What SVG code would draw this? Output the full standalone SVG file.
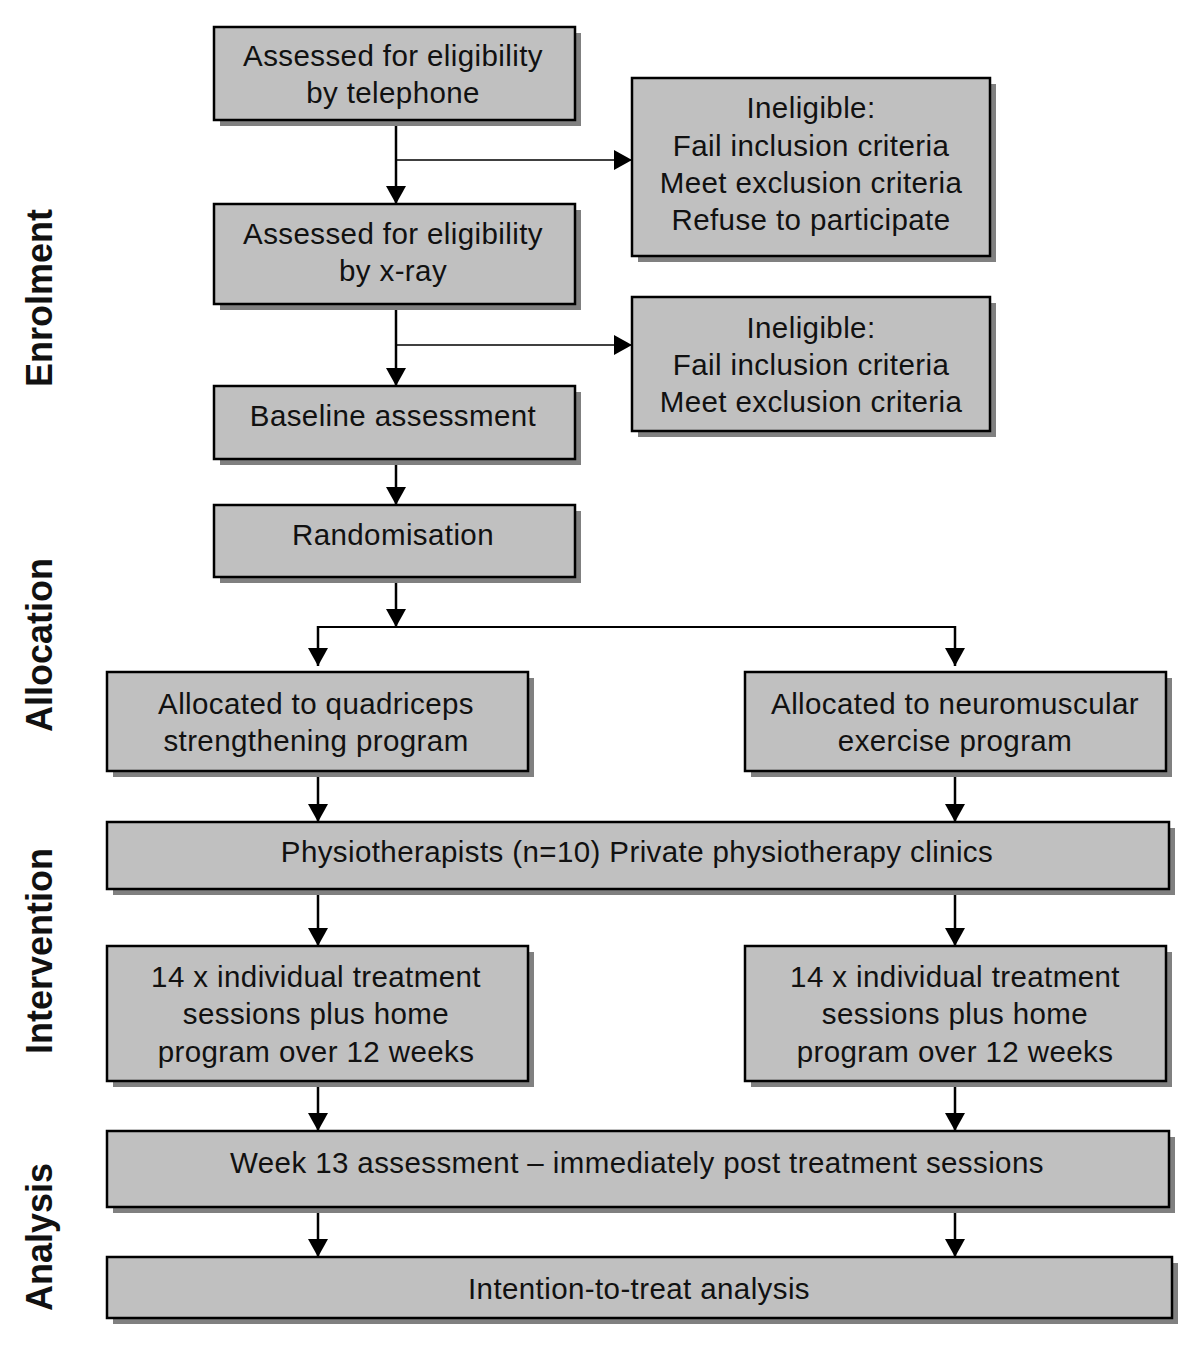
<svg xmlns="http://www.w3.org/2000/svg" width="1200" height="1354" viewBox="0 0 1200 1354">
<defs>
<style>
.box rect.b{fill:#c0c0c0;stroke:#000;stroke-width:2.5}
.box rect.s{fill:#808080}
text{font-family:"Liberation Sans",Arial,sans-serif;font-size:29.5px;letter-spacing:0.4px;fill:#111;text-anchor:middle}
.lab{font-size:36px;font-weight:bold;letter-spacing:0}
.c line{stroke:#000;stroke-width:2.5}
.c line.t{stroke-width:1.6}
</style>
<marker id="ah" markerUnits="userSpaceOnUse" markerWidth="22" markerHeight="22" refX="18" refY="10" orient="auto">
<path d="M0,0 L18,10 L0,20 Z" fill="#000"/>
</marker>
</defs>
<rect width="1200" height="1354" fill="#fff"/>

<g id="labels">
<text class="lab" transform="translate(52,298) rotate(-90)">Enrolment</text>
<text class="lab" transform="translate(52,645) rotate(-90)">Allocation</text>
<text class="lab" transform="translate(52,951) rotate(-90)">Intervention</text>
<text class="lab" transform="translate(52,1237) rotate(-90)">Analysis</text>
</g>

<g id="connectors" class="c">
<line x1="396" y1="121" x2="396" y2="204" marker-end="url(#ah)"/>
<line class="t" x1="396" y1="160" x2="632" y2="160" marker-end="url(#ah)"/>
<line x1="396" y1="305" x2="396" y2="386" marker-end="url(#ah)"/>
<line class="t" x1="396" y1="345" x2="632" y2="345" marker-end="url(#ah)"/>
<line x1="396" y1="460" x2="396" y2="505" marker-end="url(#ah)"/>
<line x1="396" y1="578" x2="396" y2="627" marker-end="url(#ah)"/>
<line class="t" x1="317" y1="627" x2="956" y2="627" style="stroke-width:2"/>
<line x1="318" y1="626" x2="318" y2="666" marker-end="url(#ah)"/>
<line x1="955" y1="626" x2="955" y2="666" marker-end="url(#ah)"/>
<line x1="318" y1="772" x2="318" y2="822" marker-end="url(#ah)"/>
<line x1="955" y1="772" x2="955" y2="822" marker-end="url(#ah)"/>
<line x1="318" y1="890" x2="318" y2="946" marker-end="url(#ah)"/>
<line x1="955" y1="890" x2="955" y2="946" marker-end="url(#ah)"/>
<line x1="318" y1="1082" x2="318" y2="1131" marker-end="url(#ah)"/>
<line x1="955" y1="1082" x2="955" y2="1131" marker-end="url(#ah)"/>
<line x1="318" y1="1208" x2="318" y2="1257" marker-end="url(#ah)"/>
<line x1="955" y1="1208" x2="955" y2="1257" marker-end="url(#ah)"/>
</g>

<g id="n1" class="box">
<rect class="s" x="220" y="33" width="361" height="93"/>
<rect class="b" x="214" y="27" width="361" height="93"/>
<text x="393" y="66">Assessed for eligibility</text>
<text x="393" y="103">by telephone</text>
</g>
<g id="n2" class="box">
<rect class="s" x="638" y="84" width="358" height="178"/>
<rect class="b" x="632" y="78" width="358" height="178"/>
<text x="811" y="118">Ineligible:</text>
<text x="811" y="156">Fail inclusion criteria</text>
<text x="811" y="193">Meet exclusion criteria</text>
<text x="811" y="230">Refuse to participate</text>
</g>
<g id="n3" class="box">
<rect class="s" x="220" y="210" width="361" height="100"/>
<rect class="b" x="214" y="204" width="361" height="100"/>
<text x="393" y="244">Assessed for eligibility</text>
<text x="393" y="281">by x-ray</text>
</g>
<g id="n4" class="box">
<rect class="s" x="638" y="303" width="358" height="134"/>
<rect class="b" x="632" y="297" width="358" height="134"/>
<text x="811" y="338">Ineligible:</text>
<text x="811" y="375">Fail inclusion criteria</text>
<text x="811" y="412">Meet exclusion criteria</text>
</g>
<g id="n5" class="box">
<rect class="s" x="220" y="392" width="361" height="73"/>
<rect class="b" x="214" y="386" width="361" height="73"/>
<text x="393" y="426">Baseline assessment</text>
</g>
<g id="n6" class="box">
<rect class="s" x="220" y="511" width="361" height="72"/>
<rect class="b" x="214" y="505" width="361" height="72"/>
<text x="393" y="545">Randomisation</text>
</g>
<g id="n7" class="box">
<rect class="s" x="113" y="678" width="421" height="99"/>
<rect class="b" x="107" y="672" width="421" height="99"/>
<text x="316" y="714">Allocated to quadriceps</text>
<text x="316" y="751">strengthening program</text>
</g>
<g id="n8" class="box">
<rect class="s" x="751" y="678" width="421" height="99"/>
<rect class="b" x="745" y="672" width="421" height="99"/>
<text x="955" y="714">Allocated to neuromuscular</text>
<text x="955" y="751">exercise program</text>
</g>
<g id="n9" class="box">
<rect class="s" x="113" y="828" width="1062" height="67"/>
<rect class="b" x="107" y="822" width="1062" height="67"/>
<text x="637" y="862">Physiotherapists (n=10) Private physiotherapy clinics</text>
</g>
<g id="n10" class="box">
<rect class="s" x="113" y="952" width="421" height="135"/>
<rect class="b" x="107" y="946" width="421" height="135"/>
<text x="316" y="987">14 x individual treatment</text>
<text x="316" y="1024">sessions plus home</text>
<text x="316" y="1062">program over 12 weeks</text>
</g>
<g id="n11" class="box">
<rect class="s" x="751" y="952" width="421" height="135"/>
<rect class="b" x="745" y="946" width="421" height="135"/>
<text x="955" y="987">14 x individual treatment</text>
<text x="955" y="1024">sessions plus home</text>
<text x="955" y="1062">program over 12 weeks</text>
</g>
<g id="n12" class="box">
<rect class="s" x="113" y="1137" width="1062" height="76"/>
<rect class="b" x="107" y="1131" width="1062" height="76"/>
<text x="637" y="1173">Week 13 assessment – immediately post treatment sessions</text>
</g>
<g id="n13" class="box">
<rect class="s" x="113" y="1263" width="1065" height="61"/>
<rect class="b" x="107" y="1257" width="1065" height="61"/>
<text x="639" y="1299">Intention-to-treat analysis</text>
</g>
</svg>
